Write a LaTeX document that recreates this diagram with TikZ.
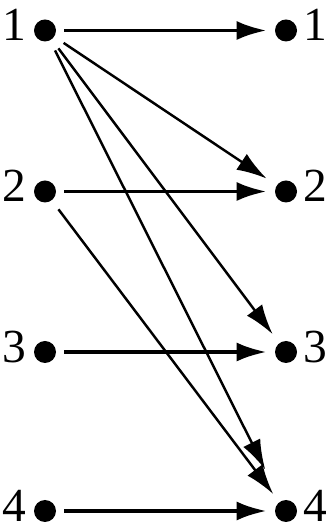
\documentclass[tikz,border=0pt]{standalone}
\usepackage{fontspec}
\setmainfont{Liberation Serif}
\usetikzlibrary{positioning,calc,arrows.meta}
\tikzstyle{vertex} = [circle, fill, inner sep=0pt, minimum size=0.44cm]
\tikzstyle{num} = [inner sep=0pt, font=\fontsize{27}{30}\selectfont]
\tikzset{>={Latex[length=0.6cm,width=0.38cm]}}

\begin{document}
\begin{tikzpicture}
	\useasboundingbox (0,0) rectangle (6.54,10.54);
	% dots and labels
	\foreach \i/\y in {1/9.93,2/6.71,3/3.5,4/0.32}{
		\node[vertex] (a\i) at (0.9,\y) {};
		\node[vertex] (b\i) at (5.72,\y) {};
		\node[num, anchor=base east] (la\i) at ([shift={(-0.15,-0.21)}]a\i.west) {\i};
		\node[num, anchor=base west] (lb\i) at ([shift={(0.12,-0.21)}]b\i.east) {\i};
	}
	% straight arrows
	\foreach \i in {1,...,4}
		\draw[->, line width=2.2pt, shorten <=0.16cm, shorten >=0.16cm] (a\i) -- (b\i);
	% slanted arrows
	\draw[->, line width=1.4pt, shorten <=0.22cm, shorten >=0.24cm] (a1) -- (b2);
	\draw[->, line width=1.4pt, shorten <=0.22cm, shorten >=0.22cm] (a1) -- (b3);
	\draw[->, line width=1.4pt, shorten <=0.22cm, shorten >=0.7cm] (a1) -- (b4);
	\draw[->, line width=1.4pt, shorten <=0.22cm, shorten >=0.2cm] (a2) -- (b4);
\end{tikzpicture}
\end{document}
